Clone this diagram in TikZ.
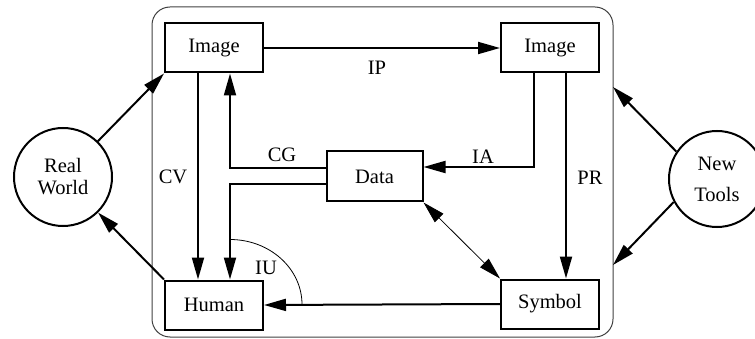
\documentclass[tikz,border=0pt]{standalone}
\usepackage{fontspec}
\setmainfont{Liberation Serif}
\usetikzlibrary{arrows.meta,calc}
\begin{document}
\begin{tikzpicture}[x=1pt,y=-1pt,
  every node/.style={font=\fontsize{20.5}{22}\selectfont},
  box/.style={draw,line width=2pt,inner sep=0pt,minimum width=98pt,minimum height=49pt},
  circ/.style={draw,circle,line width=2pt,inner sep=0pt,align=center},
  arr/.style={line width=2pt,-{Triangle[length=22pt,width=12pt]}},
  thinarr/.style={line width=0.8pt,{Triangle[length=22pt,width=12pt]}-{Triangle[length=22pt,width=12pt]}},
  lbl/.style={inner sep=0pt}]
\useasboundingbox (0,0) rectangle (755,339);
% frame
\draw[line width=1pt,black!75,rounded corners=18pt] (152,7) rectangle (613,337);
% boxes
\node[box] (img1) at (214,48) {Image};
\node[box] (img2) at (550,48) {Image};
\node[box] (hum) at (214,305) {Human};
\node[box] (sym) at (550,304) {Symbol};
\node[box,minimum width=96pt,minimum height=50pt] (data) at (374.5,176.5) {Data};
% circles
\node[circ,minimum size=98pt,font=\fontsize{20.5}{22}\selectfont] (rw) at (63,177) {Real\\World};
\node[circ,minimum size=96pt,font=\fontsize{20.5}{31}\selectfont] (nt) at (717,179) {New\\Tools};
% outer connectors
\coordinate (ntA) at (613,87);
\coordinate (ntB) at (613,265);
\draw[arr] (rw) -- (img1.south west);
\draw[arr] (hum.north west) -- (rw);
\draw[arr] (nt.146) -- (ntA);
\draw[arr] (nt.208) -- (ntB);
% inner connectors
\draw[arr] (img1.east) -- (img2.west);
\draw[arr] ($(img1.south)+(-16,0)$) -- ($(hum.north)+(-16,0)$);
\draw[arr] ($(data.west)+(0,-8.5)$) -| ($(img1.south)+(16,0)$);
\draw[arr] ($(data.west)+(0,7.5)$) -| ($(hum.north)+(16,0)$);
\draw[arr] ($(img2.south)+(-16,0)$) |- ($(data.east)+(0,-9.5)$);
\draw[arr] ($(img2.south)+(16,0)$) -- ($(sym.north)+(16,0)$);
\draw[thinarr] (data.south east) -- (sym.north west);
\draw[arr] (sym.west) -- (hum.east);
\draw[line width=0.8pt] ($(hum.north)+(16,-40)$) arc[start angle=270,end angle=360,x radius=72,y radius=65];
% labels
\node[lbl] (lIP) at (377,68) {IP};
\node[lbl] (lCV) at (173,177) {CV};
\node[lbl] (lCG) at (282,155) {CG};
\node[lbl] (lIA) at (483,157) {IA};
\node[lbl] (lPR) at (590,178) {PR};
\node[lbl] (lIU) at (266,268) {IU};
\end{tikzpicture}
\end{document}
